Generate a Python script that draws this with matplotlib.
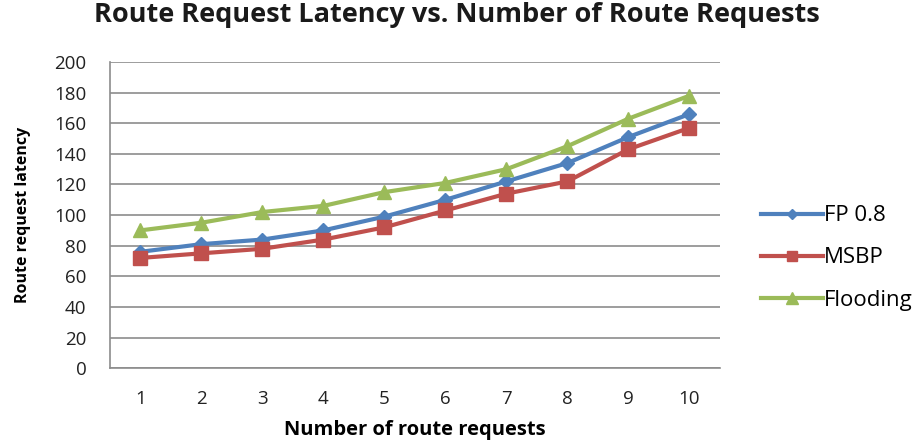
import matplotlib
matplotlib.use("Agg")
import matplotlib.pyplot as plt

categories = [1, 2, 3, 4, 5, 6, 7, 8, 9, 10]
fp08 = [76, 81, 84, 90, 99, 110, 122, 134, 151, 166]
msbp = [72, 75, 78, 84, 92, 103, 114, 122, 143, 157]
flooding = [90, 95, 102, 106, 115, 121, 130, 145, 163, 178]
yticks = [0, 20, 40, 60, 80, 100, 120, 140, 160, 180, 200]

plt.rcParams['font.family'] = ['Open Sans', 'DejaVu Sans']

fig = plt.figure(figsize=(9.16, 4.43), dpi=100)
ax = fig.add_axes([0.120, 0.169, 0.666, 0.691])

ax.plot(categories, fp08, color='#4F81BD', lw=3.0, marker='D', ms=7, label='FP 0.8', zorder=3)
ax.plot(categories, msbp, color='#C0504D', lw=3.0, marker='s', ms=9.5, label='MSBP', zorder=3)
ax.plot(categories, flooding, color='#9BBB59', lw=3.0, marker='^', ms=10, label='Flooding', zorder=3)

ax.set_xlim(0.5, 10.5)
ax.set_ylim(0, 200)
ax.set_yticks(yticks)
ax.set_xticks(categories)
ax.set_xticklabels([str(c) for c in categories])
ax.yaxis.grid(True, color='#8c8c8c', lw=1.2)
ax.set_axisbelow(True)
for s in ['top', 'right']:
    ax.spines[s].set_visible(False)
for s in ['left', 'bottom']:
    ax.spines[s].set_color('#8c8c8c')
    ax.spines[s].set_linewidth(1.2)
ax.tick_params(length=0, labelsize=13.5, colors='#222222')
ax.tick_params(axis='x', pad=16)
ax.tick_params(axis='y', pad=17)

ax.set_xlabel('Number of route requests', fontsize=14.5, fontweight='bold')
ax.xaxis.set_label_coords(0.5, -0.17)
ax.set_ylabel('Route request latency', fontsize=11.5, fontweight='bold')
ax.yaxis.set_label_coords(-0.13, 0.5)
fig.suptitle('Route Request Latency vs. Number of Route Requests', x=0.499, y=0.995,
             fontsize=19.5, fontweight='bold', color='#1a1a1a')

ax.legend(loc='center left', bbox_to_anchor=(1.052, 0.36), frameon=False, fontsize=16,
          handlelength=2.8, labelspacing=0.95, handletextpad=0.05, borderaxespad=0.0,
          markerscale=0.8)

fig.savefig('out.png', dpi=100)
